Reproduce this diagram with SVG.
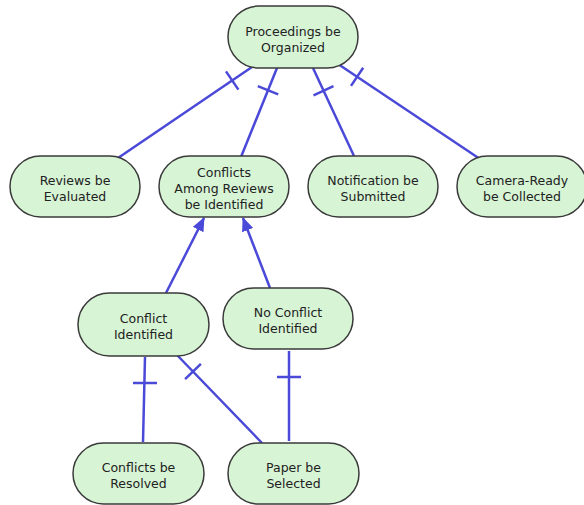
<svg xmlns="http://www.w3.org/2000/svg" width="584" height="505" viewBox="0 0 584 505">
  <style>
    .node rect { fill: #d7f4d5; stroke: #3a3a3a; stroke-width: 1.5; }
    .node text { font-family: "DejaVu Sans", Verdana, sans-serif; font-size: 12.5px; fill: #222; text-anchor: middle; }
    .edge { stroke: #4b49d8; stroke-width: 2.5; fill: none; }
    .tick { stroke: #4b49d8; stroke-width: 2.5; }
  </style>
  <defs>
    <marker id="arrow" markerUnits="userSpaceOnUse" markerWidth="14" markerHeight="12" refX="13" refY="6" orient="auto">
      <path d="M0,0 L14,6 L0,12 Z" fill="#4b49d8"/>
    </marker>
  </defs>

  <rect width="584" height="505" fill="#ffffff"/>

  <g id="connectors">
    <!-- AND-decomposition links from the root goal -->
    <line class="edge" x1="252" y1="67" x2="118" y2="158"/>
    <line class="tick" x1="226" y1="71.4" x2="238.4" y2="89.6"/>
    <line class="edge" x1="277" y1="68" x2="241" y2="157"/>
    <line class="tick" x1="257.8" y1="86.1" x2="278.2" y2="94.3"/>
    <line class="edge" x1="313" y1="68" x2="354" y2="156"/>
    <line class="tick" x1="313.5" y1="95.3" x2="333.5" y2="86.1"/>
    <line class="edge" x1="338" y1="64" x2="480" y2="159"/>
    <line class="tick" x1="351" y1="85.9" x2="363.2" y2="67.7"/>

    <!-- OR-refinement arrows -->
    <line class="edge" x1="166" y1="293" x2="204" y2="218" marker-end="url(#arrow)"/>
    <line class="edge" x1="270" y1="288" x2="243" y2="218" marker-end="url(#arrow)"/>

    <!-- lower AND links -->
    <line class="edge" x1="145" y1="357" x2="143" y2="442"/>
    <line class="tick" x1="133" y1="383" x2="157" y2="383"/>
    <line class="edge" x1="177" y1="355" x2="262" y2="443"/>
    <line class="tick" x1="185.1" y1="379.1" x2="200.9" y2="363.9"/>
    <line class="edge" x1="289" y1="351" x2="289" y2="441"/>
    <line class="tick" x1="277" y1="377" x2="301" y2="377"/>
  </g>

  <g id="proceedings-organized" class="node">
    <rect x="228" y="6" width="130" height="62" rx="31"/>
    <text><tspan x="293" y="35.5">Proceedings be</tspan><tspan x="293" y="51.5">Organized</tspan></text>
  </g>

  <g id="reviews-evaluated" class="node">
    <rect x="10" y="156" width="130" height="61" rx="30.5"/>
    <text><tspan x="75" y="185">Reviews be</tspan><tspan x="75" y="201">Evaluated</tspan></text>
  </g>

  <g id="conflicts-among-reviews" class="node">
    <rect x="159" y="156" width="130" height="61" rx="30.5"/>
    <text><tspan x="224" y="177">Conflicts</tspan><tspan x="224" y="193">Among Reviews</tspan><tspan x="224" y="209">be Identified</tspan></text>
  </g>

  <g id="notification-submitted" class="node">
    <rect x="308" y="156" width="130" height="61" rx="30.5"/>
    <text><tspan x="373" y="185">Notification be</tspan><tspan x="373" y="201">Submitted</tspan></text>
  </g>

  <g id="camera-ready-collected" class="node">
    <rect x="457" y="156" width="130" height="61" rx="30.5"/>
    <text><tspan x="522" y="185">Camera-Ready</tspan><tspan x="522" y="201">be Collected</tspan></text>
  </g>

  <g id="conflict-identified" class="node">
    <rect x="78" y="293" width="131" height="63" rx="31.5"/>
    <text><tspan x="143.5" y="323">Conflict</tspan><tspan x="143.5" y="339">Identified</tspan></text>
  </g>

  <g id="no-conflict-identified" class="node">
    <rect x="223" y="288" width="130" height="61" rx="30.5"/>
    <text><tspan x="288" y="317">No Conflict</tspan><tspan x="288" y="333">Identified</tspan></text>
  </g>

  <g id="conflicts-resolved" class="node">
    <rect x="73" y="443" width="131" height="61" rx="30.5"/>
    <text><tspan x="138.5" y="472">Conflicts be</tspan><tspan x="138.5" y="488">Resolved</tspan></text>
  </g>

  <g id="paper-selected" class="node">
    <rect x="228" y="443" width="131" height="61" rx="30.5"/>
    <text><tspan x="293.5" y="472">Paper be</tspan><tspan x="293.5" y="488">Selected</tspan></text>
  </g>
</svg>
